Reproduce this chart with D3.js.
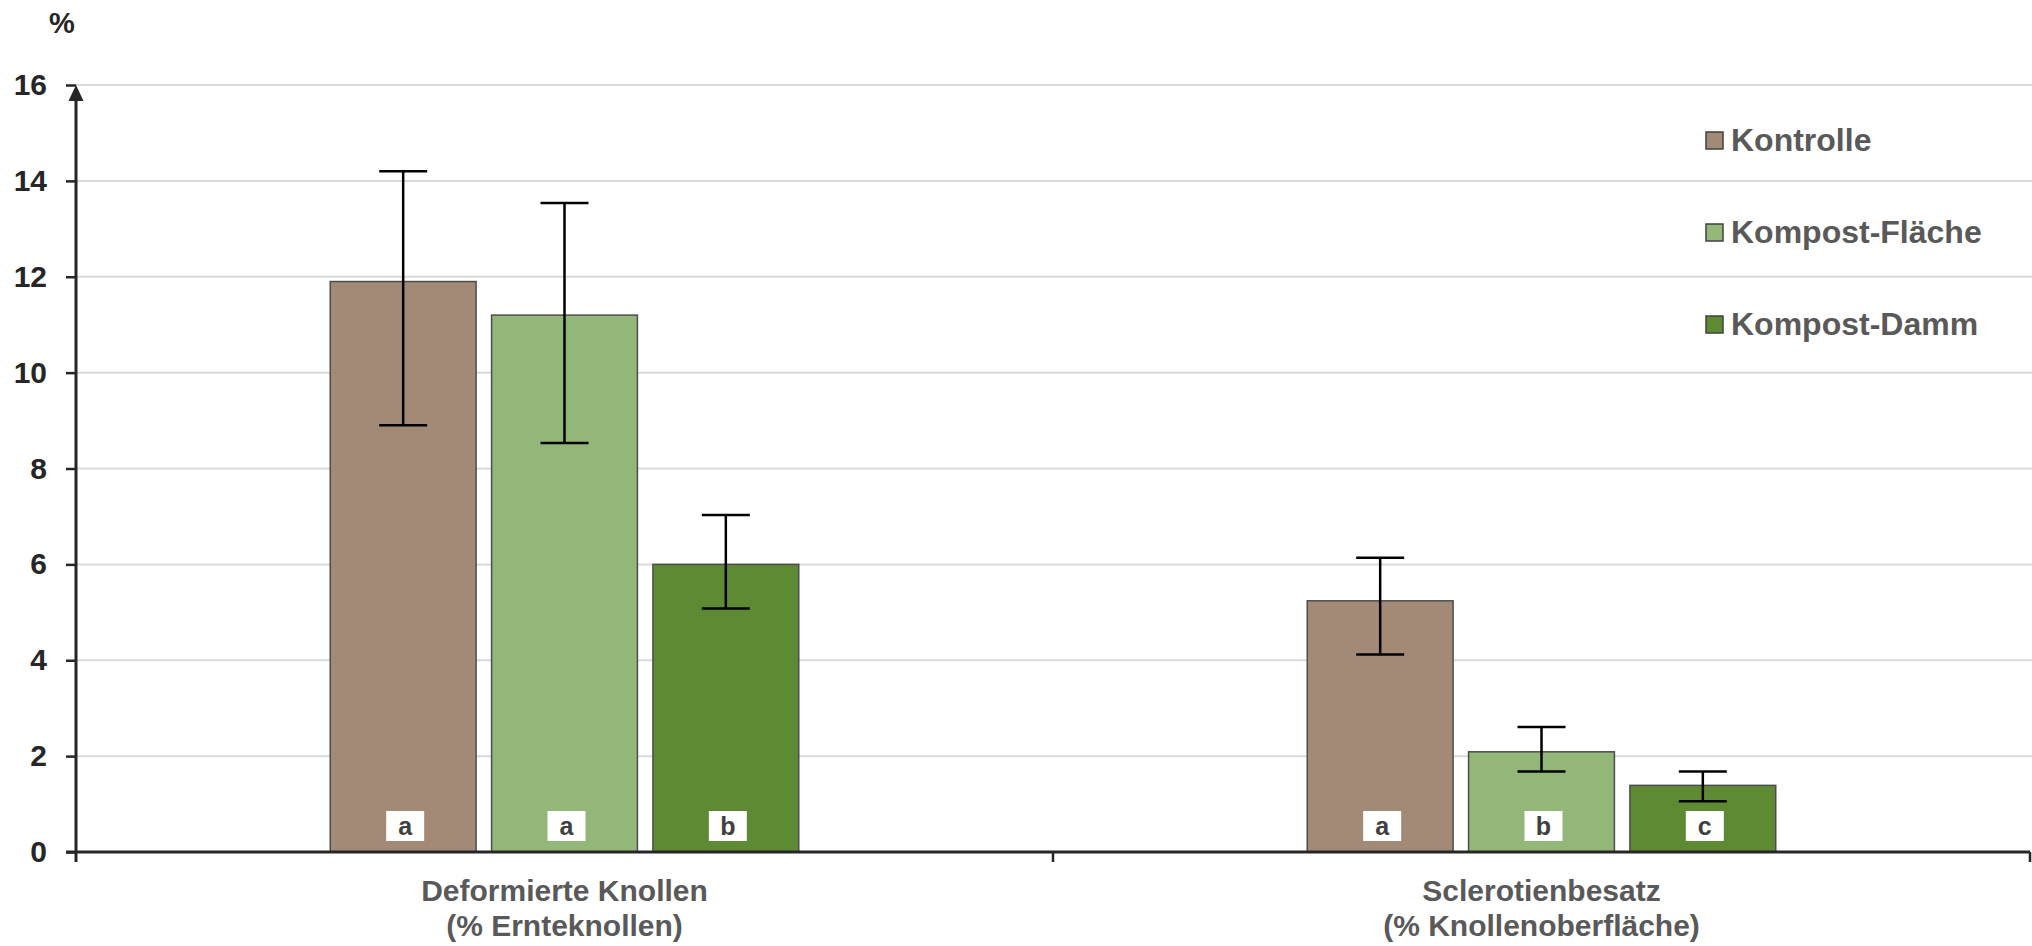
<!DOCTYPE html>
<html>
<head>
<meta charset="utf-8">
<script src="https://cdn.jsdelivr.net/npm/d3@7"></script>
<style>
  body { margin: 0; background: #fff; }
  svg { display: block; font-family: "Liberation Sans", Arial, sans-serif; }
</style>
</head>
<body>
<svg width="2032" height="946"></svg>
<script>
// dati
var categorie = ["Deformierte Knollen|(% Ernteknollen)", "Sclerotienbesatz|(% Knollenoberfläche)"];
var serie = ["Kontrolle", "Kompost-Fläche", "Kompost-Damm"];
var colori = ["#a38a77", "#93b778", "#5d8a33"];

var kontrolle = [11.9, 5.24];
var flaeche = [11.2, 2.09];
var damm = [6.0, 1.39];

// estremi delle barre di errore
var kontrolleMin = [8.9, 4.12], kontrolleMax = [14.2, 6.14];
var flaecheMin = [8.53, 1.68], flaecheMax = [13.54, 2.61];
var dammMin = [5.08, 1.06], dammMax = [7.03, 1.68];

// lettere di significatività
var kontrolleLett = ["a", "a"];
var flaecheLett = ["a", "b"];
var dammLett = ["b", "c"];

var yTicks = [0, 2, 4, 6, 8, 10, 12, 14, 16];

var valori = [kontrolle, flaeche, damm];
var minimi = [kontrolleMin, flaecheMin, dammMin];
var massimi = [kontrolleMax, flaecheMax, dammMax];
var lettere = [kontrolleLett, flaecheLett, dammLett];

var dati = [];
categorie.forEach(function(c, i) {
	serie.forEach(function(s, j) {
		dati.push({cat: c, serie: s, col: colori[j], v: valori[j][i], lo: minimi[j][i], hi: massimi[j][i], lett: lettere[j][i]});
	});
});

var svg = d3.select("svg");
var sinistra = 76, destra = 2030, alto = 85, basso = 852;

var x0 = d3.scaleBand().domain(categorie).range([sinistra, destra]);
var x1 = d3.scaleBand().domain(serie).range([0, x0.bandwidth()]).paddingInner(0.096).paddingOuter(1.576);
var y = d3.scaleLinear().domain([0, 16]).range([basso, alto]);

//griglia
svg.append("g")
	.selectAll("line")
	.data(yTicks.filter(function(d) { return d > 0; }))
	.enter().append("line")
	.attr("x1", sinistra).attr("x2", 2032)
	.attr("y1", function(d) { return y(d); })
	.attr("y2", function(d) { return y(d); })
	.style("stroke", "#d9d9d9")
	.attr("stroke-width", 2);

//asse y
var asseY = svg.append("g")
	.attr("transform", "translate(" + sinistra + ",0)")
	.call(d3.axisLeft(y).tickValues(yTicks).tickSize(10).tickPadding(19).tickFormat(d3.format("d")));
asseY.select(".domain").remove();
asseY.selectAll(".tick line").attr("stroke", "#262626").attr("stroke-width", 2.5);
asseY.selectAll(".tick text")
	.attr("fill", "#262626")
	.style("font-size", "30px")
	.style("font-weight", "bold")
	.style("font-family", "Liberation Sans, Arial, sans-serif");

svg.append("line")
	.attr("x1", sinistra).attr("x2", sinistra)
	.attr("y1", basso + 10).attr("y2", alto + 12)
	.style("stroke", "#262626").attr("stroke-width", 3);
svg.append("path")
	.attr("d", "M" + sinistra + "," + alto + " L" + (sinistra + 7.5) + "," + (alto + 16) + " L" + (sinistra - 7.5) + "," + (alto + 16) + " Z")
	.attr("fill", "#262626");

svg.append("text")
	.attr("x", 62).attr("y", 33)
	.attr("text-anchor", "middle")
	.attr("fill", "#262626")
	.style("font-size", "29px").style("font-weight", "bold")
	.text("%");

//barre
var gruppi = svg.append("g")
	.selectAll("g")
	.data(dati)
	.enter().append("g")
	.attr("transform", function(d) { return "translate(" + (x0(d.cat) + x1(d.serie)) + ",0)"; });

gruppi.append("rect")
	.attr("x", 0)
	.attr("width", x1.bandwidth())
	.attr("y", function(d) { return y(d.v); })
	.attr("height", function(d) { return basso - y(d.v); })
	.attr("fill", function(d) { return d.col; })
	.style("stroke", "#4d4d4d")
	.attr("stroke-width", 1.5);

//etichette lettere
gruppi.append("rect")
	.attr("x", x1.bandwidth() / 2 - 17)
	.attr("y", basso - 41)
	.attr("width", 38).attr("height", 30)
	.attr("fill", "#fff");
gruppi.append("text")
	.attr("x", x1.bandwidth() / 2 + 2)
	.attr("y", basso - 17)
	.attr("text-anchor", "middle")
	.attr("fill", "#404040")
	.style("font-size", "25px").style("font-weight", "bold")
	.text(function(d) { return d.lett; });

//barre di errore
var cx = x1.bandwidth() / 2;
gruppi.append("line")
	.attr("x1", cx).attr("x2", cx)
	.attr("y1", function(d) { return y(d.lo); })
	.attr("y2", function(d) { return y(d.hi); })
	.style("stroke", "#000").attr("stroke-width", 2.5);
gruppi.append("line")
	.attr("x1", cx - 24).attr("x2", cx + 24)
	.attr("y1", function(d) { return y(d.lo); })
	.attr("y2", function(d) { return y(d.lo); })
	.style("stroke", "#000").attr("stroke-width", 2.5);
gruppi.append("line")
	.attr("x1", cx - 24).attr("x2", cx + 24)
	.attr("y1", function(d) { return y(d.hi); })
	.attr("y2", function(d) { return y(d.hi); })
	.style("stroke", "#000").attr("stroke-width", 2.5);

//asse x
svg.append("line")
	.attr("x1", sinistra - 10).attr("x2", destra)
	.attr("y1", basso).attr("y2", basso)
	.style("stroke", "#262626").attr("stroke-width", 3);
var confini = categorie.map(function(c) { return x0(c); }).concat([destra]);
svg.append("g").selectAll("line")
	.data(confini.slice(1))
	.enter().append("line")
	.attr("x1", function(d) { return d; }).attr("x2", function(d) { return d; })
	.attr("y1", basso).attr("y2", basso + 10)
	.style("stroke", "#262626").attr("stroke-width", 2.5);

var etichette = svg.append("g").selectAll("text")
	.data(categorie)
	.enter().append("text")
	.attr("text-anchor", "middle")
	.attr("fill", "#595959")
	.style("font-size", "30px").style("font-weight", "bold");
etichette.each(function(c) {
	var t = d3.select(this);
	c.split("|").forEach(function(riga, k) {
		t.append("tspan")
			.attr("x", x0(c) + x0.bandwidth() / 2)
			.attr("y", 901 + k * 35)
			.text(riga);
	});
});

//legenda
var legenda = svg.append("g").selectAll("g")
	.data(serie)
	.enter().append("g")
	.attr("transform", function(d, i) { return "translate(1706," + (132 + i * 92) + ")"; });
legenda.append("rect")
	.attr("width", 17).attr("height", 17)
	.attr("fill", function(d, i) { return colori[i]; })
	.style("stroke", "#404040").attr("stroke-width", 1.5);
legenda.append("text")
	.attr("x", 25).attr("y", 19)
	.attr("fill", "#595959")
	.style("font-size", "32px").style("font-weight", "bold")
	.text(function(d) { return d; });
</script>
</body>
</html>
